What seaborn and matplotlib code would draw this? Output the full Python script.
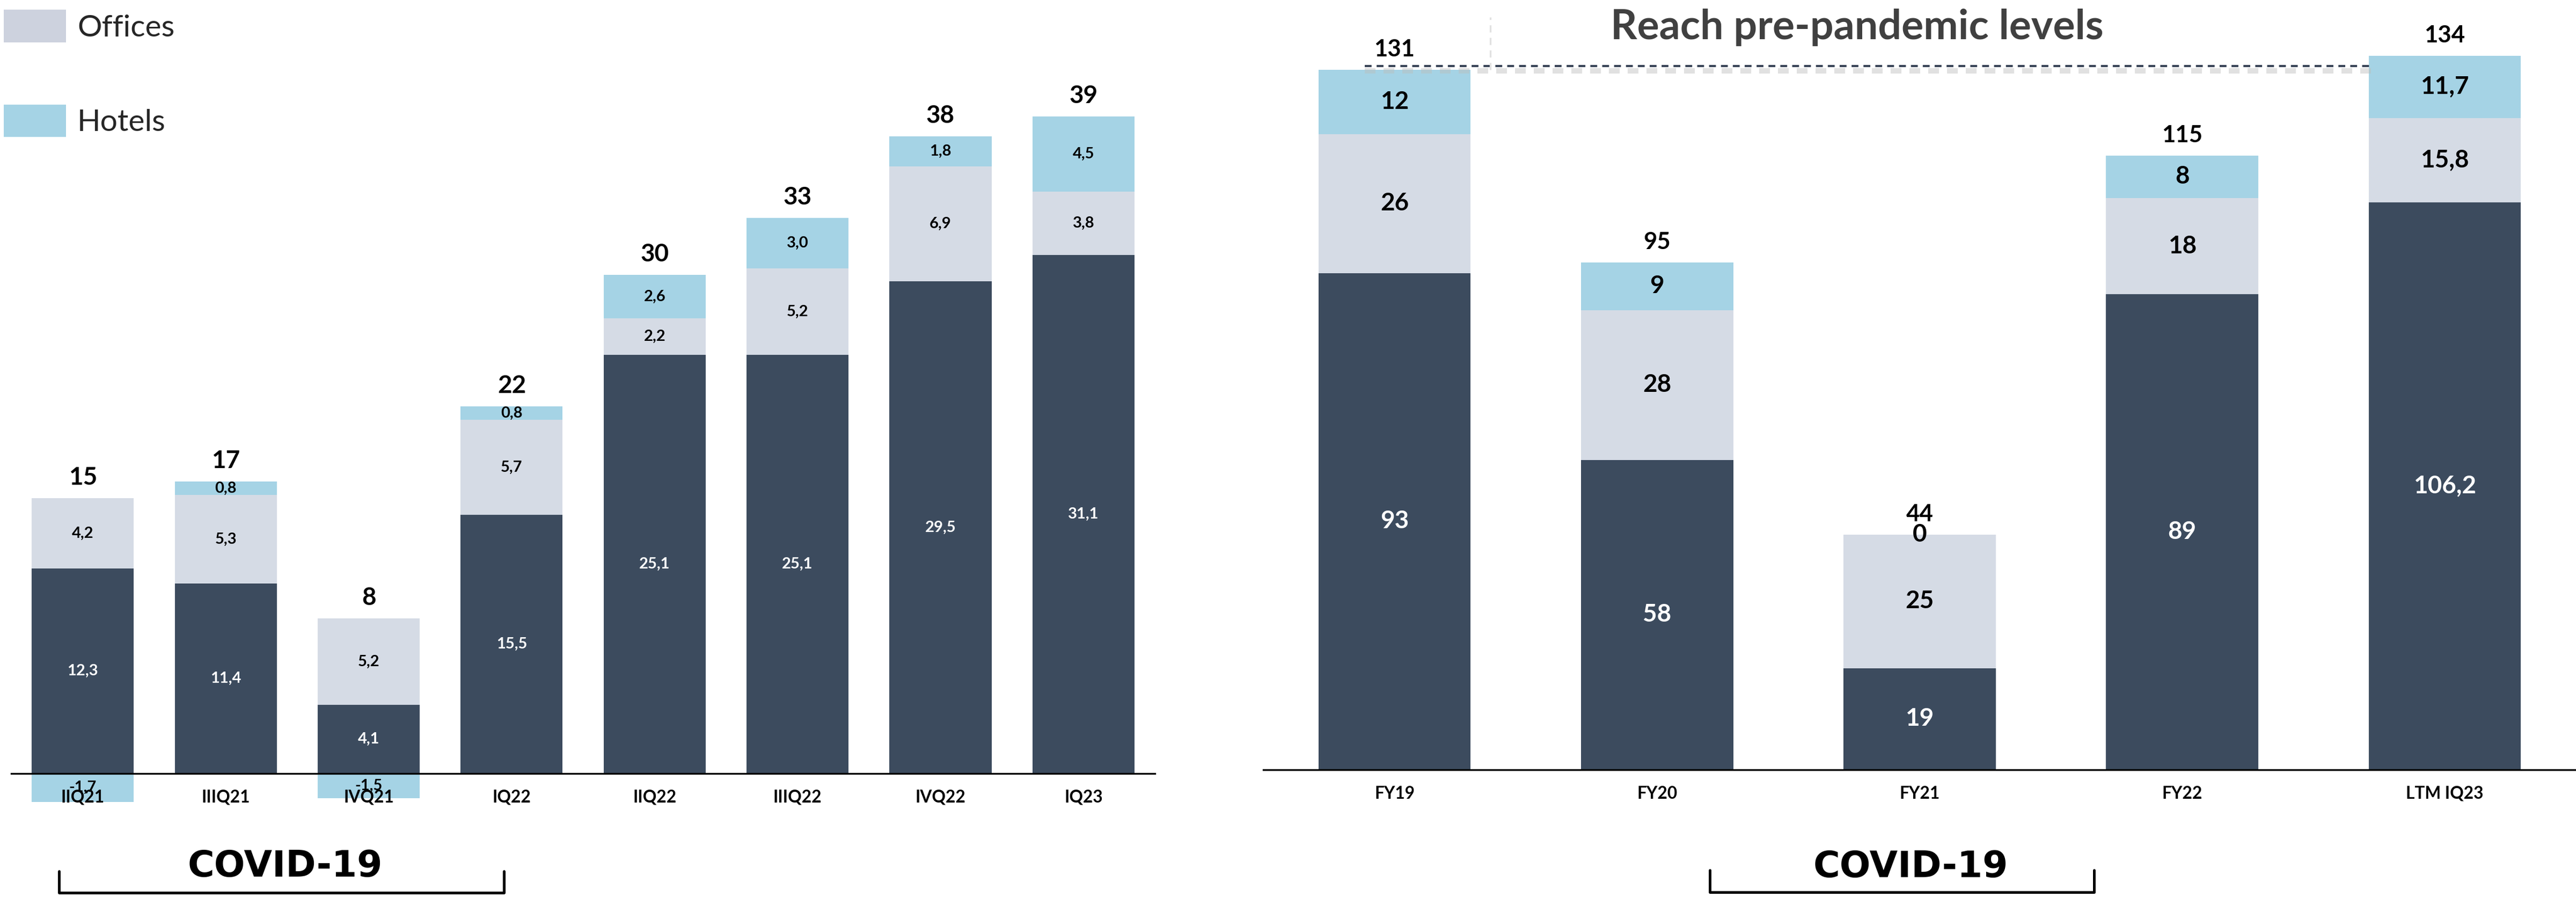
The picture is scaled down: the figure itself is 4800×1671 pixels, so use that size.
import numpy as np
import matplotlib
matplotlib.use("Agg")
import matplotlib.pyplot as plt
import matplotlib.transforms as mtransforms
from matplotlib.lines import Line2D
from matplotlib.patches import Patch
import seaborn as sns

# ---------------- data ----------------
q_categories = ["IIQ21", "IIIQ21", "IVQ21", "IQ22", "IIQ22", "IIIQ22", "IVQ22", "IQ23"]
q_base = [12.3, 11.4, 4.1, 15.5, 25.1, 25.1, 29.5, 31.1]
q_offices = [4.2, 5.3, 5.2, 5.7, 2.2, 5.2, 6.9, 3.8]
q_hotels = [-1.7, 0.8, -1.5, 0.8, 2.6, 3.0, 1.8, 4.5]
q_totals = [15, 17, 8, 22, 30, 33, 38, 39]

fy_categories = ["FY19", "FY20", "FY21", "FY22", "LTM IQ23"]
fy_base = [93, 58, 19, 89, 106.2]
fy_offices = [26, 28, 25, 18, 15.8]
fy_hotels = [12, 9, 0, 8, 11.7]
fy_totals = [131, 95, 44, 115, 134]

legend_labels = ["Offices", "Hotels"]
annotation_text = "Reach pre-pandemic levels"
period_text = "COVID-19"

# ---------------- style ----------------
C_BASE = "#3C4B5E"
C_OFF = "#D5DBE5"
C_HOT = "#A5D3E5"

sns.set_theme(style="white")
plt.rcParams["font.family"] = ["Lato", "DejaVu Sans"]

fig = plt.figure(figsize=(16, 1671 / 300), dpi=300)
fig.patch.set_facecolor("white")

ax1 = fig.add_axes([0.0044, 0.04478, 0.44394, 0.92949])
ax2 = fig.add_axes([0.4904, 0.05262, 0.5096, 0.92291])


def fmt_one_decimal(v):
    return f"{v:.1f}".replace(".", ",")


def fmt_auto(v):
    v = float(v)
    if v.is_integer():
        return f"{v:.0f}"
    return f"{v:.1f}".replace(".", ",")


def draw_stack(ax, cats, base, offices, hotels, totals, width, fmt, seg_size, tot_size,
               cat_size, ylim):
    base = np.asarray(base, float)
    off = np.asarray(offices, float)
    hot = np.asarray(hotels, float)
    hot_bottom = np.where(hot < 0, 0.0, base + off)
    layers = [
        (base, np.zeros_like(base), C_BASE, "white"),
        (off, base, C_OFF, "black"),
        (hot, hot_bottom, C_HOT, "black"),
    ]
    for vals, bottoms, col, tcol in layers:
        sns.barplot(x=cats, y=vals, order=cats, bottom=bottoms, color=col,
                    width=width, saturation=1, errorbar=None, linewidth=0, ax=ax)
        cont = ax.containers[-1]
        ax.bar_label(cont, labels=[fmt(v) for v in vals], label_type="center",
                     color=tcol, fontsize=seg_size, fontweight="bold")
    tops = base + off + np.maximum(hot, 0)
    for i, (t, lab) in enumerate(zip(tops, totals)):
        ax.annotate(str(lab), xy=(i, t), xytext=(0, 6), textcoords="offset points",
                    ha="center", va="baseline", fontsize=tot_size,
                    fontweight="bold", color="black")
    ax.set_xlim(-0.5, len(cats) - 0.5)
    ax.set_ylim(*ylim)
    ax.set_axisbelow(False)
    for s in ["top", "left", "right"]:
        ax.spines[s].set_visible(False)
    ax.spines["bottom"].set_position(("data", 0))
    ax.spines["bottom"].set_color("black")
    ax.spines["bottom"].set_linewidth(0.8)
    ax.spines["bottom"].set_zorder(3)
    ax.set_yticks([])
    ax.tick_params(axis="x", length=0, pad=7.2, labelsize=cat_size, colors="black")
    for lab in ax.get_xticklabels():
        lab.set_fontweight("bold")
    ax.xaxis.set_zorder(4)
    ax.set_xlabel("")
    ax.set_ylabel("")
    ax.grid(False)
    ax.set_facecolor("none")


draw_stack(ax1, q_categories, q_base, q_offices, q_hotels, q_totals,
           width=0.714, fmt=fmt_one_decimal, seg_size=7.0, tot_size=11,
           cat_size=7.6, ylim=(-5, 45))
draw_stack(ax2, fy_categories, fy_base, fy_offices, fy_hotels, fy_totals,
           width=0.58, fmt=fmt_auto, seg_size=11, tot_size=10.5,
           cat_size=7.6, ylim=(-15, 140))

# dotted "pre-pandemic" reference line at FY19 level (with soft shadow)
up = mtransforms.offset_copy(ax2.transData, fig=fig, x=0, y=1.8, units="points")
down = mtransforms.offset_copy(ax2.transData, fig=fig, x=0, y=-0.3, units="points")
ax2.add_line(Line2D([-0.114, 3.73], [fy_totals[0], fy_totals[0]], transform=down,
                    color="#BDBDBD", lw=2.4, alpha=0.45, linestyle=(0, (2.0, 1.5)),
                    clip_on=False, zorder=4))
ax2.add_line(Line2D([-0.114, 3.73], [fy_totals[0], fy_totals[0]], transform=up,
                    color="#2E3A4E", lw=0.9, linestyle=(0, (3.4, 2.5)),
                    clip_on=False, zorder=5))

# faint vertical dashed guide
fig.add_artist(Line2D([0.5785, 0.5785], [0.9222, 0.9808], transform=fig.transFigure,
                      color="#E2E2E2", lw=0.8, linestyle=(0, (4, 3))))

fig.text(0.7209, 0.9565, annotation_text, ha="center", va="baseline",
         fontsize=18.5, fontweight="bold", color="#404040")

# COVID-19 brackets
for (x0, x1, ytop, ybot, xc, yb) in [
    (0.0229, 0.1956, 0.0287, 0.0048, 0.1107, 0.0227),
    (0.66375, 0.8129, 0.0299, 0.0054, 0.7417, 0.0221),
]:
    fig.add_artist(Line2D([x0, x0, x1, x1], [ytop, ybot, ybot, ytop],
                          transform=fig.transFigure, color="black", lw=1.2,
                          solid_joinstyle="round"))
    fig.text(xc, yb, period_text, ha="center", va="baseline", fontsize=16.3,
             fontweight="bold", color="black", family=["DejaVu Sans"])

# legend
handles = [Patch(facecolor="#CDD2DE", edgecolor="none"), Patch(facecolor=C_HOT, edgecolor="none")]
fig.legend(handles=handles, labels=legend_labels, loc="upper left",
           bbox_to_anchor=(7 / 4800, 1 - 18 / 1671), bbox_transform=fig.transFigure,
           frameon=False, borderpad=0, borderaxespad=0, fontsize=13.7,
           handlelength=2.03, handleheight=1.26, handletextpad=0.37, labelspacing=2.03)

fig.savefig("out.png", dpi=300, facecolor="white")
